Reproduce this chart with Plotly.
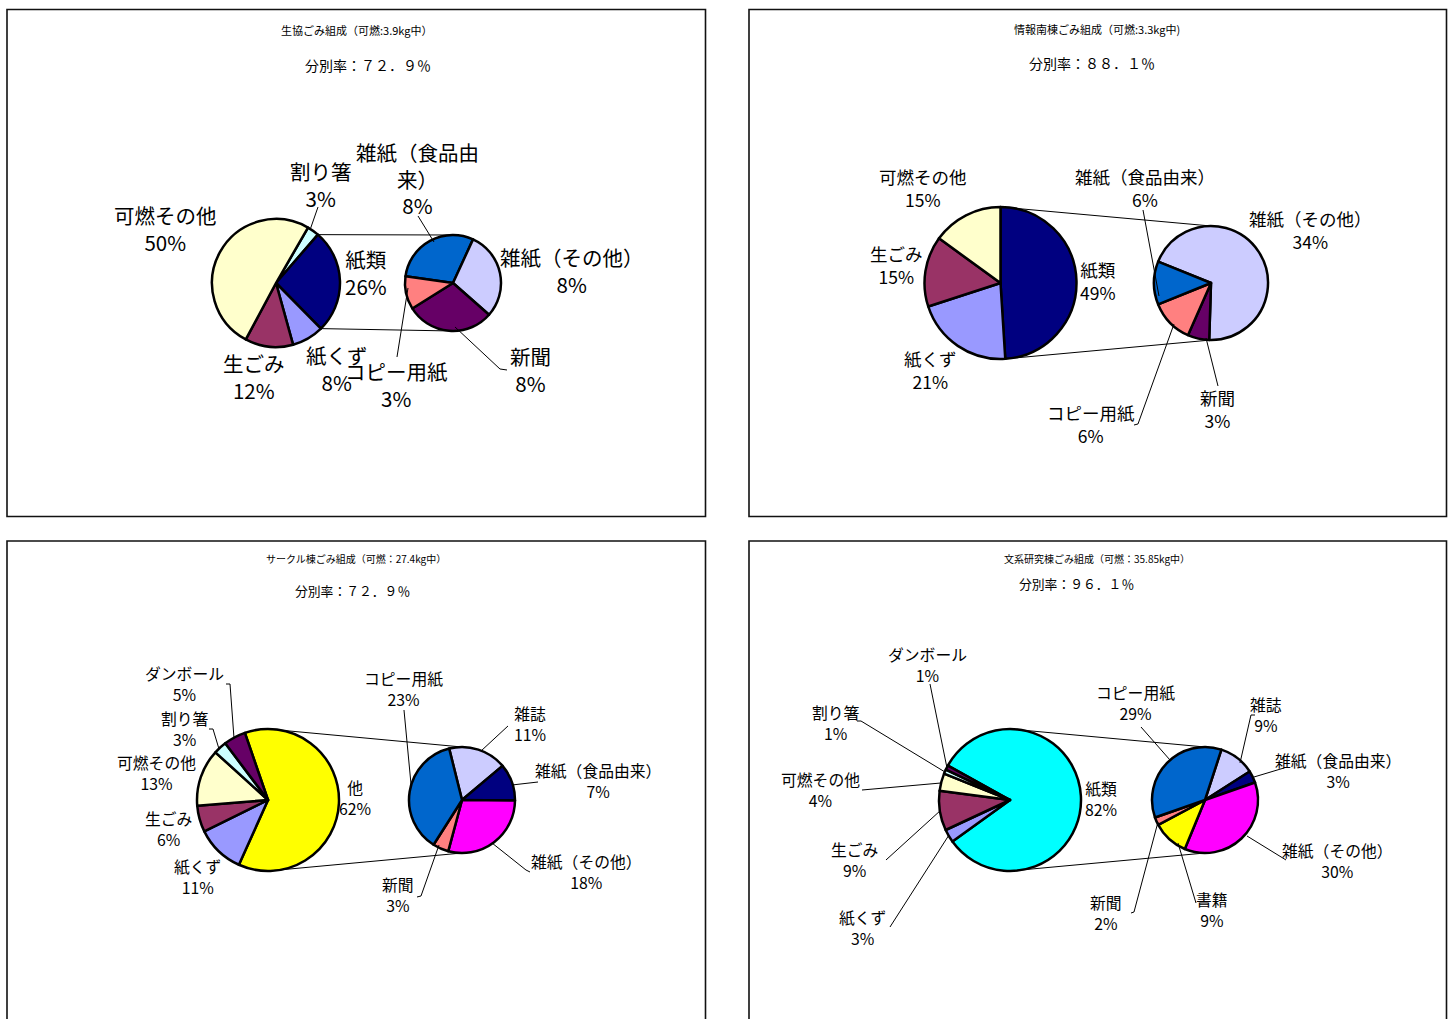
import math
import plotly.graph_objects as go

W, H = 1455, 1019

# ------------------------------------------------------------------ data
# Panel 1: 生協
p1_title = "生協ごみ組成（可燃:3.9kg中）"
p1_rate = "分別率：７２．９％"
p1_main_labels = ["割り箸", "紙類", "紙くず", "生ごみ", "可燃その他"]
p1_main_values = [3, 26, 8, 12, 50]
p1_other = "紙類"
p1_sub_labels = ["雑紙（食品由来）", "雑紙（その他）", "新聞", "コピー用紙"]
p1_sub_values = [8, 8, 8, 3]

# Panel 2: 情報南棟
p2_title = "情報南棟ごみ組成（可燃:3.3kg中)"
p2_rate = "分別率：８８．１％"
p2_main_labels = ["紙類", "紙くず", "生ごみ", "可燃その他"]
p2_main_values = [49, 21, 15, 15]
p2_other = "紙類"
p2_sub_labels = ["雑紙（その他）", "新聞", "コピー用紙", "雑紙（食品由来）"]
p2_sub_values = [34, 3, 6, 6]

# Panel 3: サークル棟
p3_title = "サークル棟ごみ組成（可燃：27.4kg中）"
p3_rate = "分別率：７２．９％"
p3_main_labels = ["他", "紙くず", "生ごみ", "可燃その他", "割り箸", "ダンボール"]
p3_main_values = [62, 11, 6, 13, 3, 5]
p3_other = "他"
p3_sub_labels = ["雑誌", "雑紙（食品由来）", "雑紙（その他）", "新聞", "コピー用紙"]
p3_sub_values = [11, 7, 18, 3, 23]

# Panel 4: 文系研究棟
p4_title = "文系研究棟ごみ組成（可燃：35.85kg中）"
p4_rate = "分別率：９６．１％"
p4_main_labels = ["紙類", "紙くず", "生ごみ", "可燃その他", "割り箸", "ダンボール"]
p4_main_values = [82, 3, 9, 4, 1, 1]
p4_other = "紙類"
p4_sub_labels = ["雑誌", "雑紙（食品由来）", "雑紙（その他）", "書籍", "新聞", "コピー用紙"]
p4_sub_values = [9, 3, 30, 9, 2, 29]

# ------------------------------------------------------------------ style / layout
FONT = "Noto Sans CJK JP, Noto Sans CJK SC, sans-serif"

main_colors_common = {
    "可燃その他": "#FFFFCC", "割り箸": "#CCFFFF", "紙くず": "#9999FF",
    "生ごみ": "#993366", "ダンボール": "#660066",
}
sub_colors_a = {"雑紙（食品由来）": "#0066CC", "雑紙（その他）": "#CCCCFF",
                "新聞": "#660066", "コピー用紙": "#FF8080"}
sub_colors_b = {"雑誌": "#CCCCFF", "雑紙（食品由来）": "#000080", "雑紙（その他）": "#FF00FF",
                "新聞": "#FF8080", "コピー用紙": "#0066CC", "書籍": "#FFFF00"}

panels = [
    dict(title=p1_title, rate=p1_rate, ml=p1_main_labels, mv=p1_main_values, other=p1_other,
         sl=p1_sub_labels, sv=p1_sub_values,
         other_color="#000080", sub_colors=sub_colors_a,
         box=(7, 9.5, 705.5, 516.5),
         title_pos=(356, 30), title_size=11, rate_pos=(368, 65), rate_size=14,
         main_c=(276, 283), main_r=64, main_rot=30,
         sub_c=(453, 283), sub_r=48, sub_rot=278,
         fs=20.5,
         display={"雑紙（食品由来）": "雑紙（食品由<br>来）"},
         pos={"可燃その他": (165, 229), "割り箸": (321, 184.5), "雑紙（食品由来）": (417, 178),
              "紙類": (366, 272), "雑紙（その他）": (572, 271), "新聞": (530, 369),
              "生ごみ": (254, 376.5), "紙くず": (337, 368.5), "コピー用紙": (397, 384)},
         leaders={"割り箸": [(318, 207), (310, 230)],
                  "雑紙（食品由来）": [(418, 216), (434, 242)],
                  "新聞": [(507, 370), (500, 369), (455, 327)],
                  "コピー用紙": [(397, 357), (408, 288)]}),
    dict(title=p2_title, rate=p2_rate, ml=p2_main_labels, mv=p2_main_values, other=p2_other,
         sl=p2_sub_labels, sv=p2_sub_values,
         other_color="#000080", sub_colors=sub_colors_a,
         box=(749, 9.5, 1446.5, 516.5),
         title_pos=(1097, 29), title_size=11, rate_pos=(1092, 63), rate_size=14,
         main_c=(1000.5, 283), main_r=76, main_rot=0,
         sub_c=(1211, 283), sub_r=57, sub_rot=292,
         fs=17.5, display={},
         pos={"可燃その他": (923, 187.5), "雑紙（食品由来）": (1145, 188), "雑紙（その他）": (1310, 230),
              "生ごみ": (896, 265), "紙類": (1098, 281), "紙くず": (931, 369.5),
              "コピー用紙": (1091, 424.5), "新聞": (1217, 408.5)},
         leaders={"雑紙（食品由来）": [(1143, 210), (1159, 296)],
                  "コピー用紙": [(1134, 425), (1138, 424), (1174, 324)],
                  "新聞": [(1218, 386), (1206, 338)]}),
    dict(title=p3_title, rate=p3_rate, ml=p3_main_labels, mv=p3_main_values, other=p3_other,
         sl=p3_sub_labels, sv=p3_sub_values,
         other_color="#FFFF00", sub_colors=sub_colors_b,
         box=(7, 541, 705.5, 1040),
         title_pos=(356, 558), title_size=10, rate_pos=(352, 590), rate_size=12.8,
         main_c=(268, 800), main_r=71, main_rot=341,
         sub_c=(462, 800), sub_r=53, sub_rot=346,
         fs=15.8, display={},
         pos={"ダンボール": (184, 683.5), "割り箸": (185, 728.5), "可燃その他": (156, 773),
              "生ごみ": (168, 829), "紙くず": (197, 877), "他": (355, 798),
              "コピー用紙": (403, 688.5), "雑誌": (530, 723.5), "雑紙（食品由来）": (598, 781),
              "雑紙（その他）": (586, 871.5), "新聞": (398, 895)},
         leaders={"ダンボール": [(226, 684), (230, 684), (234, 738)],
                  "割り箸": [(209, 729), (213, 729), (219, 749)],
                  "コピー用紙": [(404, 710), (411, 784)],
                  "雑誌": [(508, 726), (481, 751)],
                  "雑紙（食品由来）": [(538, 782), (512, 785)],
                  "雑紙（その他）": [(530, 872), (526, 870), (492, 843)],
                  "新聞": [(417, 897), (421, 896), (439, 845)]}),
    dict(title=p4_title, rate=p4_rate, ml=p4_main_labels, mv=p4_main_values, other=p4_other,
         sl=p4_sub_labels, sv=p4_sub_values,
         other_color="#00FFFF", sub_colors=sub_colors_b,
         box=(749, 541, 1446.5, 1040),
         title_pos=(1097, 558), title_size=10, rate_pos=(1076, 583), rate_size=12.8,
         main_c=(1010, 800), main_r=71, main_rot=299,
         sub_c=(1205, 800), sub_r=53, sub_rot=18,
         fs=15.8, display={},
         pos={"ダンボール": (928, 664.5), "割り箸": (836, 722.5), "可燃その他": (820, 789.5),
              "生ごみ": (854, 860), "紙くず": (862, 927.5), "紙類": (1101, 799),
              "コピー用紙": (1135, 702.5), "雑誌": (1266, 715), "雑紙（食品由来）": (1338, 771),
              "雑紙（その他）": (1337, 860.5), "新聞": (1106, 912.5), "書籍": (1212, 909.5)},
         leaders={"ダンボール": [(930, 684), (947, 768)],
                  "割り箸": [(857, 721), (861, 721), (945, 772)],
                  "可燃その他": [(862, 790), (941, 783)],
                  "生ごみ": [(886, 860), (941, 810)],
                  "紙くず": [(890, 927), (949, 835)],
                  "コピー用紙": [(1141, 727), (1170, 760)],
                  "雑誌": [(1255, 715), (1251, 715), (1240, 763)],
                  "雑紙（食品由来）": [(1284, 768), (1254, 777)],
                  "雑紙（その他）": [(1286, 860), (1247, 836)],
                  "新聞": [(1131, 913), (1134, 912), (1158, 822)],
                  "書籍": [(1196, 903), (1178, 843)]}),
]


def px(x):
    return x / W


def py(y):
    return 1 - y / H


def pt(cx, cy, r, ang):
    a = math.radians(ang)
    return (cx + r * math.sin(a), cy - r * math.cos(a))


def contains(start, end, target):
    for k in range(-2, 4):
        t = target + 360 * k
        if start <= t <= end:
            return t
    return None


fig = go.Figure()
shapes = []
annotations = []

for p in panels:
    cx, cy = p["main_c"]
    r = p["main_r"]
    scx, scy = p["sub_c"]
    sr = p["sub_r"]

    mcolors = [p["other_color"] if lab == p["other"] else main_colors_common[lab] for lab in p["ml"]]
    scolors = [p["sub_colors"][lab] for lab in p["sl"]]

    fig.add_trace(go.Pie(
        labels=p["ml"], values=p["mv"], sort=False, direction="clockwise",
        rotation=p["main_rot"], textinfo="none", hoverinfo="label+value",
        marker=dict(colors=mcolors, line=dict(color="black", width=2.5)),
        domain=dict(x=[px(cx - r), px(cx + r)], y=[py(cy + r), py(cy - r)]),
        showlegend=False))
    fig.add_trace(go.Pie(
        labels=p["sl"], values=p["sv"], sort=False, direction="clockwise",
        rotation=p["sub_rot"], textinfo="none", hoverinfo="label+value",
        marker=dict(colors=scolors, line=dict(color="black", width=2.5)),
        domain=dict(x=[px(scx - sr), px(scx + sr)], y=[py(scy + sr), py(scy - sr)]),
        showlegend=False))

    # connector lines from the "other" slice to the secondary pie
    vals = p["mv"]
    idx = p["ml"].index(p["other"])
    tot = sum(vals)
    start = p["main_rot"] + 360 * sum(vals[:idx]) / tot
    end = start + 360 * vals[idx] / tot
    t_top = contains(start, end, 0)
    t_bot = contains(start, end, 180)
    a_top = t_top if t_top is not None else start
    a_bot = t_bot if t_bot is not None else end
    x0, y0 = pt(cx, cy, r, a_top)
    x1, y1 = pt(cx, cy, r, a_bot)
    for (xa, ya), (xb, yb) in [((x0, y0), (scx, scy - sr)), ((x1, y1), (scx, scy + sr))]:
        shapes.append(dict(type="line", xref="paper", yref="paper",
                           x0=px(xa), y0=py(ya), x1=px(xb), y1=py(yb),
                           line=dict(color="black", width=1)))

    # panel border
    bx0, by0, bx1, by1 = p["box"]
    shapes.append(dict(type="rect", xref="paper", yref="paper",
                       x0=px(bx0), y0=py(by0), x1=px(bx1), y1=py(by1),
                       line=dict(color="#111111", width=1.6), fillcolor="rgba(0,0,0,0)"))

    # titles
    annotations.append(dict(text=p["title"], x=px(p["title_pos"][0]), y=py(p["title_pos"][1]),
                            xref="paper", yref="paper", showarrow=False,
                            xanchor="center", yanchor="middle",
                            font=dict(family=FONT, size=p["title_size"], color="black")))
    annotations.append(dict(text=p["rate"], x=px(p["rate_pos"][0]), y=py(p["rate_pos"][1]),
                            xref="paper", yref="paper", showarrow=False,
                            xanchor="center", yanchor="middle",
                            font=dict(family=FONT, size=p["rate_size"], color="black")))

    # slice labels
    for labs, vs in [(p["ml"], p["mv"]), (p["sl"], p["sv"])]:
        for lab, v in zip(labs, vs):
            name = p["display"].get(lab, lab)
            lx, ly = p["pos"][lab]
            annotations.append(dict(text=f"{name}<br>{v}%", x=px(lx), y=py(ly),
                                    xref="paper", yref="paper", showarrow=False,
                                    xanchor="center", yanchor="middle", align="center",
                                    font=dict(family=FONT, size=p["fs"], color="black")))

    # leader lines
    for lab, pts in p["leaders"].items():
        path = "M " + " L ".join(f"{px(a):.5f},{py(b):.5f}" for a, b in pts)
        shapes.append(dict(type="path", xref="paper", yref="paper", path=path,
                           line=dict(color="black", width=1)))

fig.update_layout(
    width=W, height=H, margin=dict(l=0, r=0, t=0, b=0),
    paper_bgcolor="white", plot_bgcolor="white",
    showlegend=False, shapes=shapes, annotations=annotations,
)

fig.write_html("out.html")
